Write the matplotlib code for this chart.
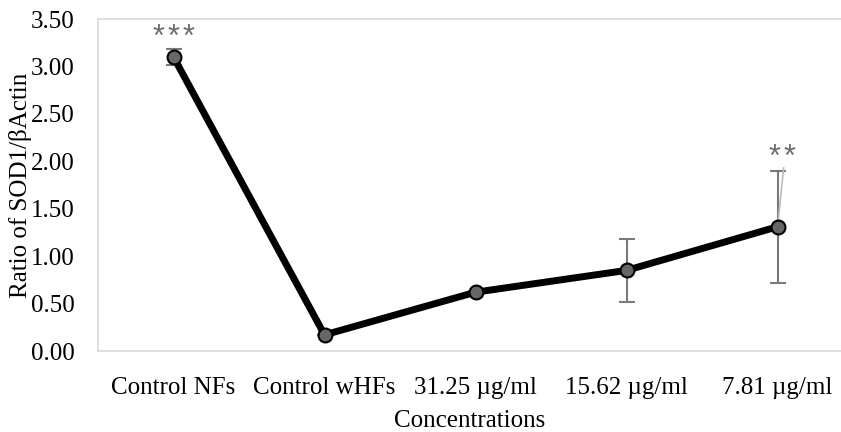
import matplotlib
matplotlib.use("Agg")
import matplotlib.pyplot as plt

categories = ["Control NFs", "Control wHFs", "31.25 \u00b5g/ml", "15.62 \u00b5g/ml", "7.81 \u00b5g/ml"]
values = [3.10, 0.17, 0.62, 0.85, 1.31]
errors = [0.08, 0.0, 0.0, 0.33, 0.59]
stars = ["***", "", "", "", "**"]
yticks = [0.0, 0.5, 1.0, 1.5, 2.0, 2.5, 3.0, 3.5]

plt.rcParams['font.family'] = ['Liberation Serif', 'DejaVu Serif']

fig = plt.figure(figsize=(8.41, 4.32), dpi=100)
ax = fig.add_axes([98/841, 1 - 351/432, (841 - 98)/841, (351 - 19)/432])

x = list(range(len(categories)))
ax.errorbar(x, values, yerr=errors, fmt='none', ecolor='#7a7a7a', elinewidth=1.5,
            capsize=6, capthick=1.5, zorder=2)
ax.plot(x, values, color='black', linewidth=5, marker='o', markersize=10,
        markerfacecolor='#666666', markeredgecolor='black', markeredgewidth=1.5, zorder=3)

# significance stars (each asterisk spaced apart)
star_anchor = {0: (0.0, 3.215), 4: (4.03, 1.95)}
for idx, (sx, sy) in star_anchor.items():
    s = stars[idx]
    n = len(s)
    for i, ch in enumerate(s):
        ax.annotate(ch, (sx, sy), xytext=((i - (n - 1) / 2) * 10.8, 0),
                    textcoords='offset points', ha='center', va='baseline',
                    fontsize=22, color='#6e6e6e',
                    family=['Liberation Sans', 'DejaVu Sans'])
ax.plot([4.04, 4.0], [1.93, values[4]], color='#bbbbbb', linewidth=1.2, zorder=2)

ax.set_ylim(0, 3.5)
ax.set_xlim(-0.5, 4.42)
ax.set_yticks(yticks)
ax.set_yticklabels([f"{t:.2f}" for t in yticks])
ax.set_xticks(x)
ax.set_xticklabels(categories)
ax.tick_params(length=0, labelsize=18)
ax.tick_params(axis='y', pad=17)
ax.tick_params(axis='x', pad=19)

for side in ['left', 'top', 'bottom']:
    ax.spines[side].set_color('#d9d9d9')
    ax.spines[side].set_linewidth(1.2)
ax.spines['right'].set_visible(False)

ax.set_ylabel("Ratio of SOD1/\u03b2Actin", fontsize=18, va='center')
ax.set_xlabel("Concentrations", fontsize=18, va='center')
ax.yaxis.set_label_coords((21 - 98) / 743, 0.5)
ax.xaxis.set_label_coords(0.5, (351 - 421) / 332)

fig.savefig("out.png", dpi=100)
